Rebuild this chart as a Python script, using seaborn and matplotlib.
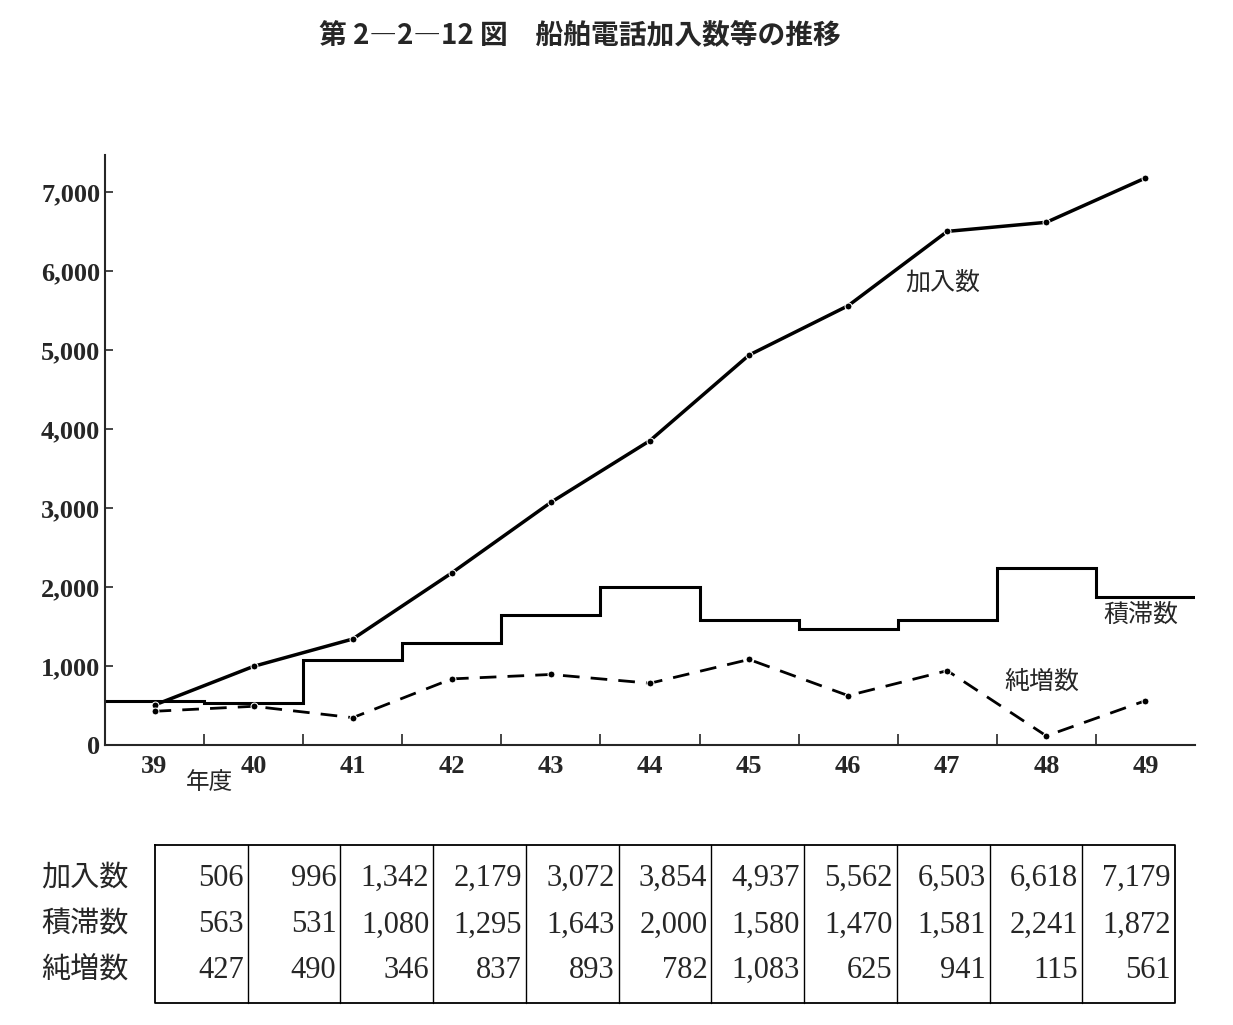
import matplotlib.pyplot as plt
import seaborn as sns
import numpy as np
import pandas as pd

years = [39, 40, 41, 42, 43, 44, 45, 46, 47, 48, 49]
kanyu = [506, 996, 1342, 2179, 3072, 3854, 4937, 5562, 6503, 6618, 7179]
sekitai = [563, 531, 1080, 1295, 1643, 2000, 1580, 1470, 1581, 2241, 1872]
junzo = [427, 490, 346, 837, 893, 782, 1083, 625, 941, 115, 561]
row_labels = ['加入数', '積滞数', '純増数']
y_ticks = [0, 1000, 2000, 3000, 4000, 5000, 6000, 7000]

jp = 'Noto Sans CJK JP'
num = 'Liberation Serif'
sns.set_style('ticks')

fig = plt.figure(figsize=(12.33, 10.25), dpi=100)
ax = fig.add_axes([105/1233, 1-745/1025, 1090/1233, 590/1025])
df = pd.DataFrame({'year': years, 'kanyu': kanyu, 'junzo': junzo})

sns.lineplot(data=df, x='year', y='kanyu', ax=ax, color='black', linewidth=2.5,
             marker='o', markersize=5)
sns.lineplot(data=df, x='year', y='junzo', ax=ax, color='black', linewidth=2,
             marker='o', markersize=5, linestyle=(0, (6, 4)))
edges = np.append(np.array(years) - 0.5, years[-1] + 0.5)
ax.stairs(sekitai, edges, color='black', linewidth=2.2, baseline=None)

ax.set_xlim(38.5, 49.5)
ax.set_ylim(0, 7470)
ax.set_xticks(edges[1:-1])
ax.set_xticklabels([])
ax.tick_params(axis='x', direction='in', length=8, width=1.2)
ax.set_yticks(y_ticks)
ax.set_yticklabels([f'{v:,}' for v in y_ticks], fontfamily=num, fontsize=19, fontweight='bold')
ax.tick_params(axis='y', direction='in', length=6, width=1.2)
for y in years:
    ax.text(y, -130, str(y), ha='center', va='top', fontfamily=num, fontsize=19, fontweight='bold')
ax.text(39.55, -330, '年度', ha='center', va='top', fontfamily=jp, fontsize=17)
ax.set_xlabel('')
ax.set_ylabel('')
sns.despine(ax=ax)
for s in ax.spines.values():
    s.set_linewidth(1.5)

ax.text(46.95, 5860, '加入数', fontfamily=jp, fontsize=18, ha='center', va='center')
ax.text(48.95, 1645, '積滞数', fontfamily=jp, fontsize=18, ha='center', va='center')
ax.text(47.95, 800, '純増数', fontfamily=jp, fontsize=18, ha='center', va='center')

fig.text(580/1233, 1-35/1025, '第 2―2―12 図　船舶電話加入数等の推移', fontfamily=jp,
         fontsize=20, fontweight='bold', ha='center', va='center')

# table
tab = fig.add_axes([0, 0, 1, 1])
tab.set_xlim(0, 1233)
tab.set_ylim(1025, 0)
tab.axis('off')
left, right, top, bottom = 155, 1175, 845, 1003
colw = (right - left) / len(years)
tab.plot([left, right, right, left, left], [top, top, bottom, bottom, top], color='black', lw=1.3)
for i in range(1, len(years)):
    tab.plot([left + i*colw]*2, [top, bottom], color='black', lw=1)
rows_y = [878, 925, 970]
for ry, lab, vals in zip(rows_y, row_labels, [kanyu, sekitai, junzo]):
    tab.text(85, ry, lab, fontfamily=jp, fontsize=21, ha='center', va='center')
    for i, v in enumerate(vals):
        tab.text(left + (i+1)*colw - 4, ry, f'{v:,}', fontfamily=num, fontsize=22,
                 ha='right', va='center')

fig.savefig('out.png', dpi=100)
